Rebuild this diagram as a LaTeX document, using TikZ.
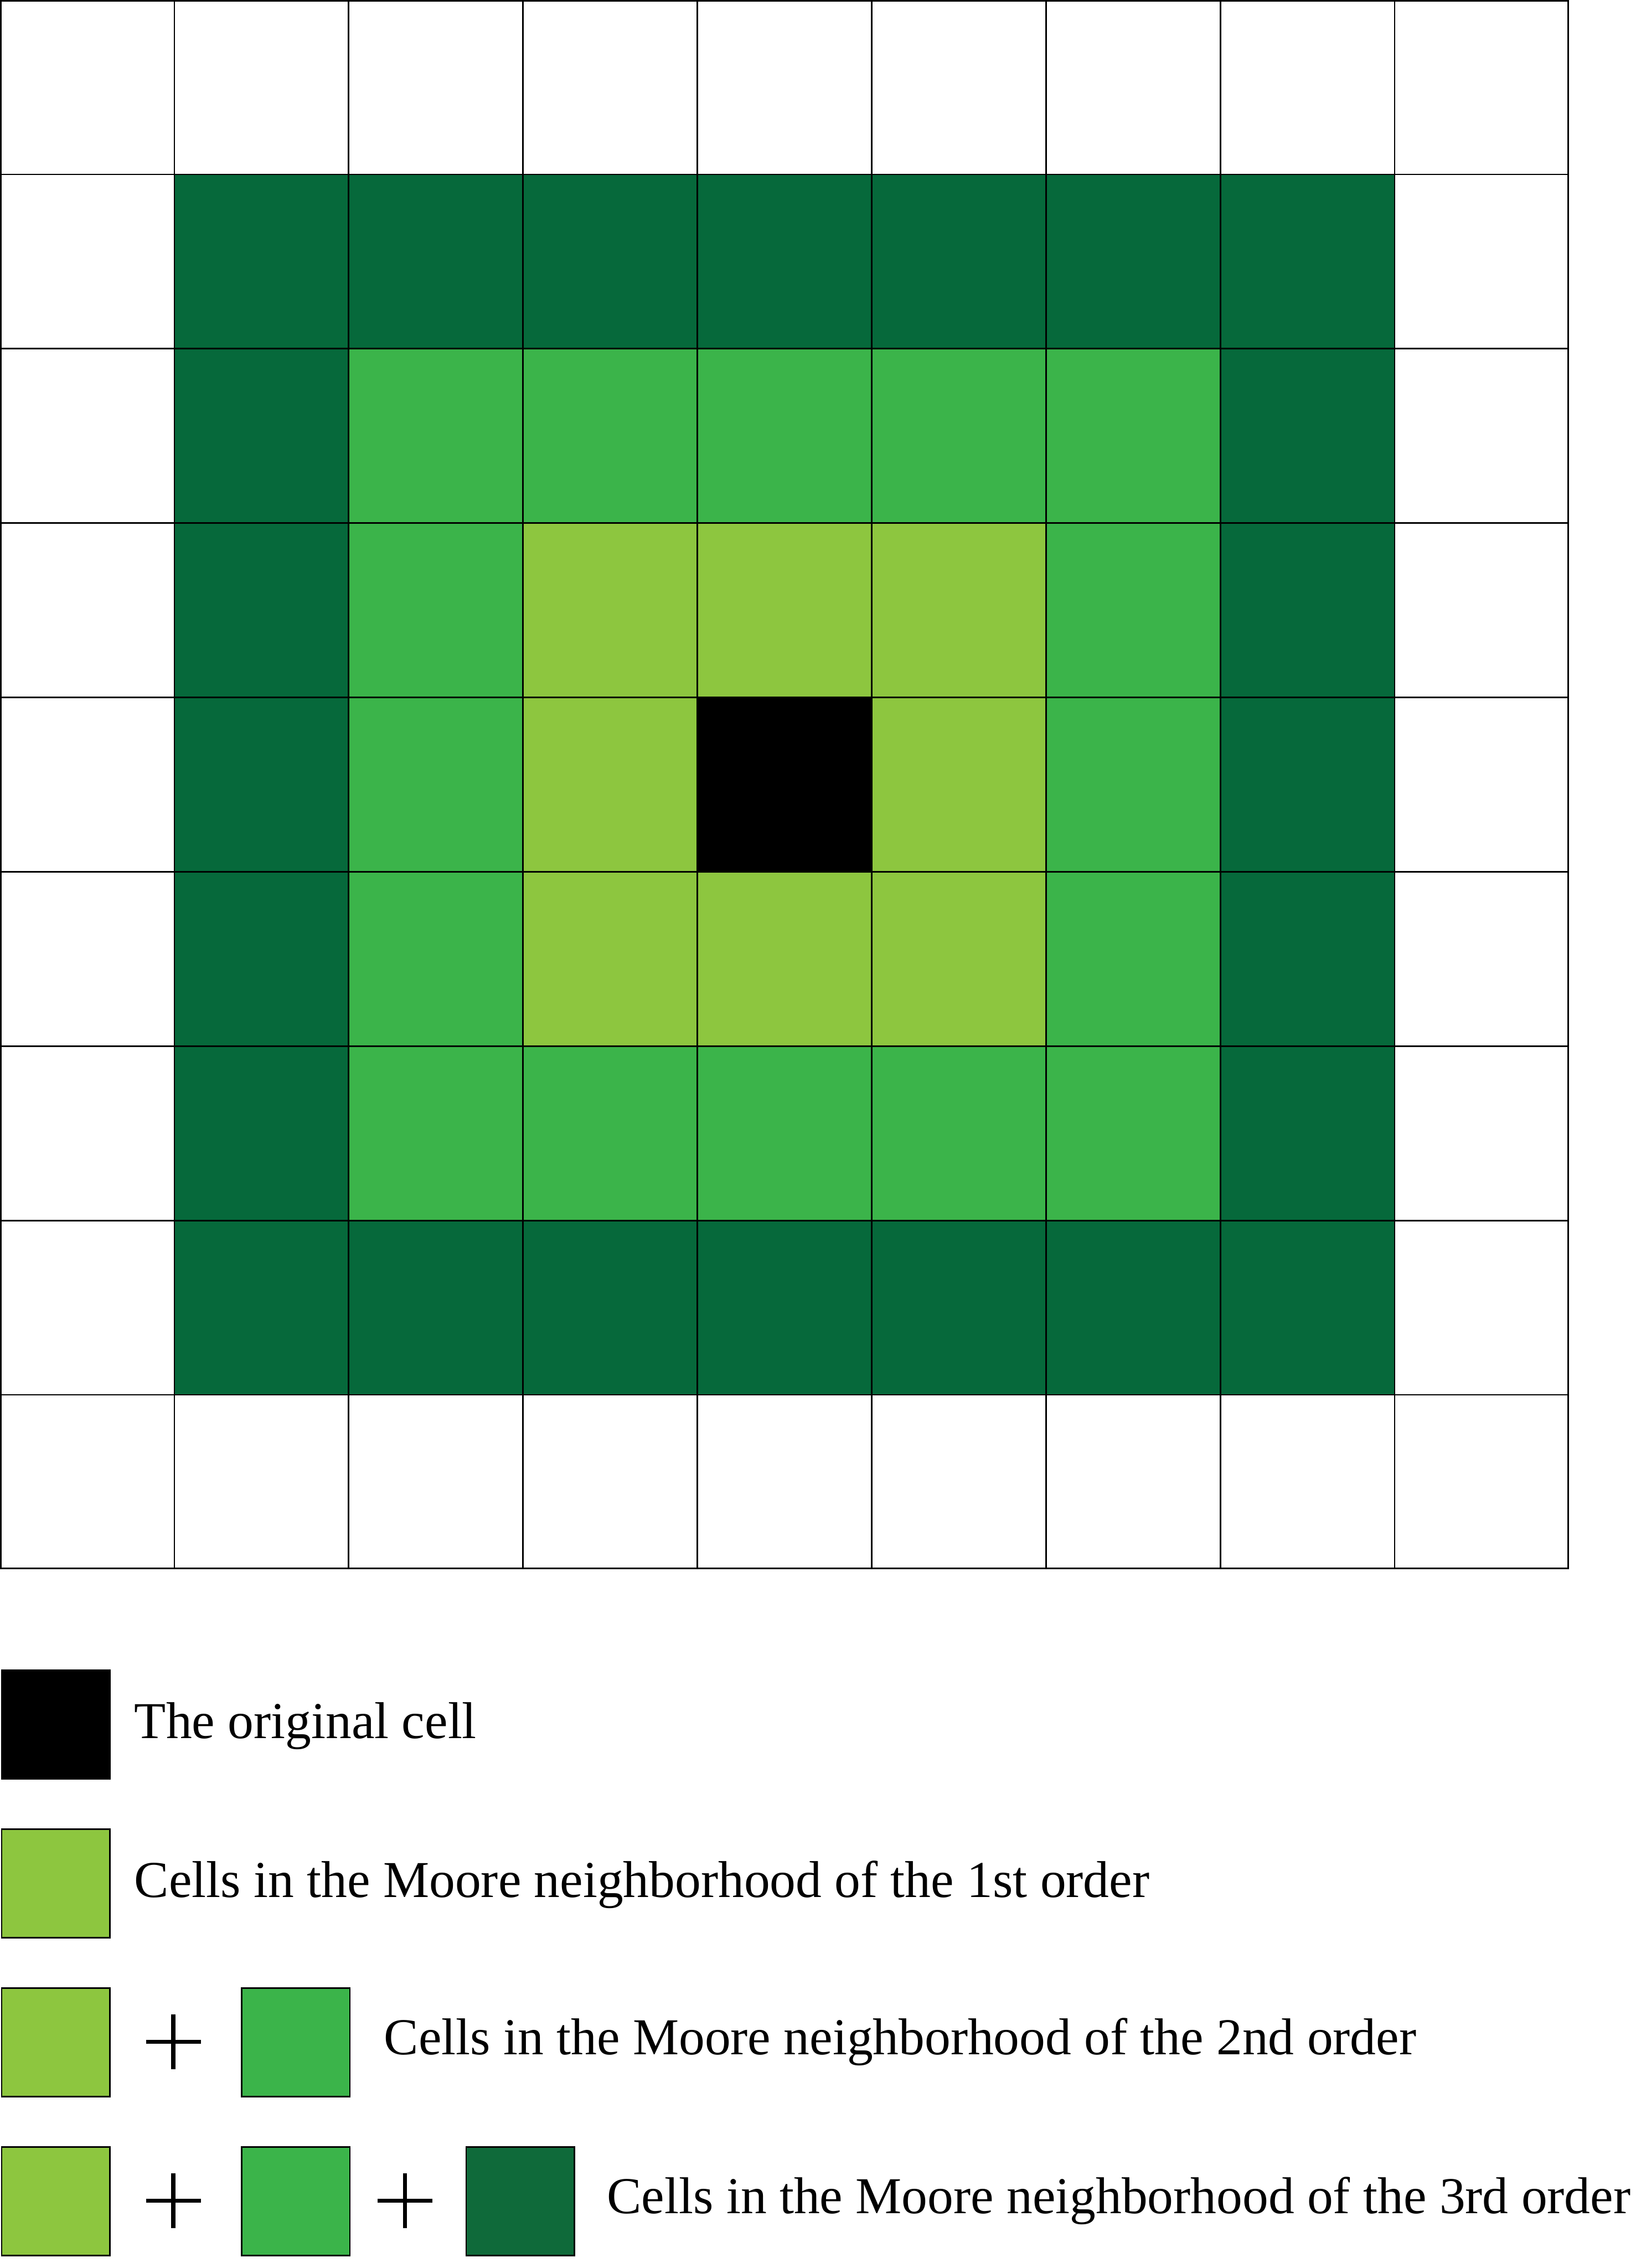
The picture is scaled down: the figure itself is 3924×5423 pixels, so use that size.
\documentclass[tikz,border=0pt]{standalone}
\usepackage{fontspec}
\setmainfont{Liberation Serif}
\definecolor{lightg}{HTML}{8DC63F}
\definecolor{midg}{HTML}{3BB44A}
\definecolor{darkg}{HTML}{06693B}
\definecolor{darkgl}{HTML}{0F6A3A}
\tikzset{
  gridline/.style={line width=1pt, black},
  legbox/.style={draw=black, line width=1pt, minimum width=2.59cm, minimum height=2.59cm, inner sep=0pt, anchor=north west},
  legtext/.style={anchor=base west, inner sep=0pt, font=\fontsize{35.2}{40}\selectfont},
  plussign/.style={line width=2.8pt, black}
}
\begin{document}
\begin{tikzpicture}[x=0.01cm,y=-0.01cm]
\useasboundingbox (0,0) rectangle (3924,5423);
\def\cs{416.9}
% cells
\foreach \i in {0,...,8} {
  \foreach \j in {0,...,8} {
    \pgfmathtruncatemacro\d{max(abs(\i-4),abs(\j-4))}
    \ifcase\d \def\cc{black}\or \def\cc{lightg}\or \def\cc{midg}\or \def\cc{darkg}\else \def\cc{white}\fi
    \fill[\cc] (\i*\cs,\j*\cs) rectangle ++(\cs,\cs);
  }
}
% grid lines
\foreach \k in {1,...,8} {
  \draw[gridline] (\k*\cs,0) -- (\k*\cs,3752);
  \draw[gridline] (0,\k*\cs) -- (3752,\k*\cs);
}
\draw[gridline, line width=1.2pt] (1.7,1.7) rectangle (3750.3,3750.3);

% legend row 1
\node[legbox, fill=black] (b1) at (2,3992) {};
\node[legtext] (t1) at (321,4156) {The original cell};
% legend row 2
\node[legbox, fill=lightg] (b2) at (2,4372) {};
\node[legtext] (t2) at (321,4536) {Cells in the Moore neighborhood of the 1st order};
% legend row 3
\node[legbox, fill=lightg] (b3a) at (2,4752) {};
\draw[plussign] (349,4882) -- (480,4882);
\draw[plussign] (414.5,4817) -- (414.5,4947);
\node[legbox, fill=midg] (b3b) at (576,4752) {};
\node[legtext] (t3) at (918,4913) {Cells in the Moore neighborhood of the 2nd order};
% legend row 4
\node[legbox, fill=lightg] (b4a) at (2,5132) {};
\draw[plussign] (349,5262) -- (480,5262);
\draw[plussign] (414.5,5197) -- (414.5,5327);
\node[legbox, fill=midg] (b4b) at (576,5132) {};
\draw[plussign] (903,5262) -- (1034,5262);
\draw[plussign] (968.5,5197) -- (968.5,5327);
\node[legbox, fill=darkgl] (b4c) at (1113,5132) {};
\node[legtext] (t4) at (1451,5293) {Cells in the Moore neighborhood of the 3rd order};
\end{tikzpicture}
\end{document}
